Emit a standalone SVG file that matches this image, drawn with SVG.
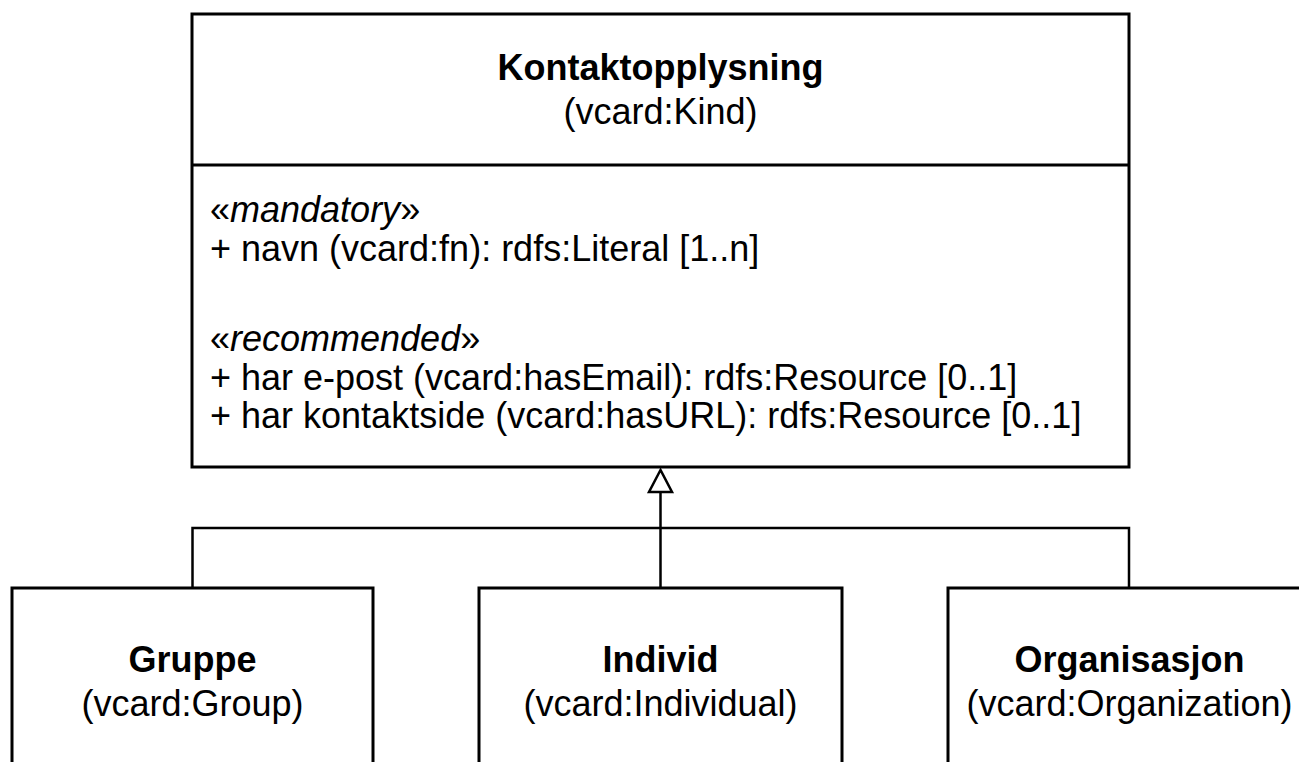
<svg xmlns="http://www.w3.org/2000/svg" width="1299" height="762" viewBox="0 0 1299 762">
<style>
.box{fill:#fff;stroke:#000;stroke-width:3}
.conn{fill:none;stroke:#000;stroke-width:2.5}
text{font-family:"Liberation Sans",Arial,sans-serif;font-size:36px;fill:#000}
.b{font-weight:bold}
.c{text-anchor:middle}
.i{font-style:italic}
</style>
<rect width="1299" height="762" fill="#fff"/>
<g id="connectors">
<polyline class="conn" points="192.5,588 192.5,528 1129,528 1129,588"/>
<line class="conn" x1="660.5" y1="492" x2="660.5" y2="588"/>
<polygon class="conn" points="660.5,470 649,492 672,492" fill="#fff"/>
</g>
<g id="kontaktopplysning">
<rect class="box" x="192" y="14" width="937" height="453"/>
<line class="box" x1="192" y1="165" x2="1129" y2="165"/>
<text class="b c" x="660.5" y="80">Kontaktopplysning</text>
<text class="c" x="660.5" y="124">(vcard:Kind)</text>
<text x="210" y="222">«<tspan class="i">mandatory</tspan>»</text>
<text x="210" y="261">+ navn (vcard:fn): rdfs:Literal [1..n]</text>
<text x="210" y="351">«<tspan class="i">recommended</tspan>»</text>
<text x="210" y="390">+ har e-post (vcard:hasEmail): rdfs:Resource [0..1]</text>
<text x="210" y="428">+ har kontaktside (vcard:hasURL): rdfs:Resource [0..1]</text>
</g>
<g id="gruppe">
<rect class="box" x="12" y="588" width="361" height="220"/>
<text class="b c" x="192.5" y="672">Gruppe</text>
<text class="c" x="192.5" y="716">(vcard:Group)</text>
</g>
<g id="individ">
<rect class="box" x="479" y="588" width="363" height="220"/>
<text class="b c" x="660.5" y="672">Individ</text>
<text class="c" x="660.5" y="716">(vcard:Individual)</text>
</g>
<g id="organisasjon">
<rect class="box" x="948" y="588" width="363" height="220"/>
<text class="b c" x="1129.5" y="672">Organisasjon</text>
<text class="c" x="1129.5" y="716">(vcard:Organization)</text>
</g>
</svg>
